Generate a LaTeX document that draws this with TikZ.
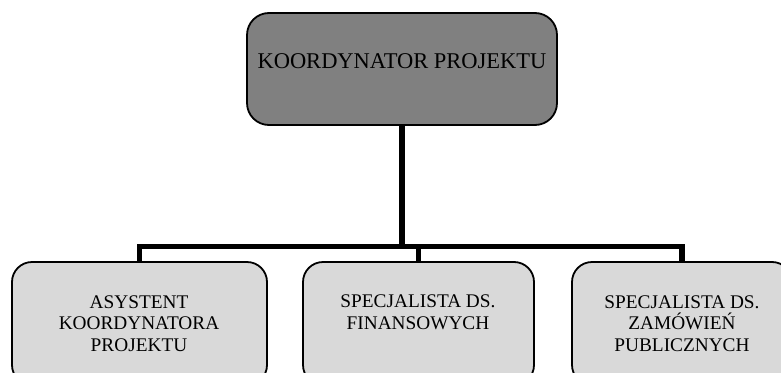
\documentclass[tikz,border=0pt]{standalone}
\usepackage{fontspec}
\setmainfont{Liberation Serif}
\usetikzlibrary{backgrounds}
\definecolor{topfill}{RGB}{128,128,128}
\definecolor{subfill}{RGB}{217,217,217}
\begin{document}
\begin{tikzpicture}[x=1pt,y=-1pt,
  box/.style={draw=black, line width=1.8pt, rounded corners=20pt, inner sep=0pt},
  topbox/.style={box, fill=topfill, minimum width=310pt, minimum height=112pt,
    font=\fontsize{22.5}{26}\selectfont, text height=15pt, text depth=17pt, rounded corners=22pt},
  subbox/.style={box, fill=subfill, minimum height=123pt},
  subtext/.style={align=center, font=\fontsize{19.3}{21.5}\selectfont, inner sep=0pt},
  conn/.style={line width=5.5pt, line join=miter, line cap=butt}]
\useasboundingbox (0,0) rectangle (781,372);
\clip (0,0) rectangle (781,372);
\node[topbox] (k) at (402,69) {KOORDYNATOR PROJEKTU};
\node[subbox, minimum width=255pt] (a) at (139.5,323.5) {};
\node[subbox, minimum width=231pt] (s) at (418.5,323.5) {};
\node[subbox, minimum width=220pt] (z) at (682,323.5) {};
\node[subtext] (at) at (139,323.5) {ASYSTENT\\KOORDYNATORA\\PROJEKTU};
\node[subtext] (st) at (418,312.5) {SPECJALISTA DS.\\FINANSOWYCH};
\node[subtext] (zt) at (682,323.5) {SPECJALISTA DS.\\ZAMÓWIEŃ\\PUBLICZNYCH};
\coordinate (bus) at (0,246.5);
\begin{pgfonlayer}{background}
\draw[conn] (a.north) -- (a.north |- bus) -- (z.north |- bus) -- (z.north);
\draw[conn] (k.south) -- (k.south |- bus);
\draw[conn] (s.north) -- (s.north |- bus);
\end{pgfonlayer}
\end{tikzpicture}
\end{document}
